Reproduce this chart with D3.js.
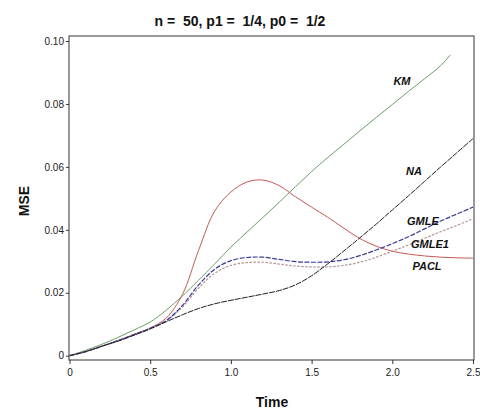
<!DOCTYPE html>
<html><head><meta charset="utf-8">
<script src="https://cdn.jsdelivr.net/npm/d3@7"></script>
<style>body{margin:0;background:#fff}svg{display:block}text{font-family:"Liberation Sans",Arial,sans-serif}</style>
</head><body><svg id="c" width="480" height="415"></svg>
<script>
const time = [0,0.1,0.2,0.3,0.4,0.5,0.6,0.7,0.8,0.9,1.0,1.1,1.2,1.3,1.4,1.5,1.6,1.7,1.8,1.9,2.0,2.1,2.2,2.3,2.4,2.5];
const kmTime = [0,0.1,0.2,0.3,0.4,0.5,0.6,0.7,0.8,0.9,1.0,1.1,1.2,1.3,1.4,1.5,1.6,1.7,1.8,1.9,2.0,2.1,2.2,2.3,2.36];
const KM    = [0,.0017,.0036,.0058,.0082,.0107,.0145,.0190,.0240,.0292,.0345,.0393,.0440,.0488,.0537,.0585,.0630,.0672,.0715,.0757,.0798,.0840,.0880,.0922,.0956];
const NA    = [0,.0013,.0030,.0046,.0065,.0085,.0108,.0130,.0150,.0165,.0176,.0186,.0196,.0207,.0225,.0254,.0292,.0333,.0375,.0418,.0463,.0508,.0554,.0600,.0645,.0690];
const GMLE  = [0,.0013,.0030,.0048,.0067,.0087,.0112,.0160,.0225,.0275,.0302,.0312,.0313,.0306,.0299,.0297,.0298,.0305,.0318,.0336,.0356,.0378,.0403,.0428,.0450,.0472];
const GMLE1 = [0,.0013,.0030,.0048,.0067,.0087,.0111,.0155,.0215,.0262,.0287,.0296,.0297,.0291,.0285,.0282,.0282,.0287,.0297,.0313,.0332,.0352,.0373,.0394,.0414,.0435];
const PACL  = [0,.0013,.0030,.0048,.0068,.0088,.0120,.0195,.0335,.0460,.0520,.0552,.0558,.0540,.0505,.0472,.0440,.0405,.0372,.0348,.0332,.0323,.0317,.0313,.0311,.0310];
const yTicks = [0,0.02,0.04,0.06,0.08,0.10];
const yTickLabels = ["0","0.02","0.04","0.06","0.08","0.10"];
const xTicks = [0,0.5,1.0,1.5,2.0,2.5];
const xTickLabels = ["0","0.5","1.0","1.5","2.0","2.5"];
const labels = ["KM","NA","GMLE","GMLE1","PACL"];
const labelPos = [[2.06,0.0870],[2.134,0.0584],[2.19,0.0425],[2.233,0.0352],[2.215,0.0282]];

const svg = d3.select("#c");
const x = d3.scaleLinear().domain([0,2.5]).range([69.5,473]);
const y = d3.scaleLinear().domain([0,0.1]).range([355.7,41]);
const L = 69, R = 474, T = 36, B = 360;

svg.append("rect").attr("x",L).attr("y",T).attr("width",R-L).attr("height",B-T)
  .attr("fill","none").attr("stroke","#333").attr("stroke-width",1);

const ya = svg.append("g").attr("transform",`translate(${L},0)`)
  .call(d3.axisLeft(y).tickValues(yTicks).tickSize(3).tickPadding(2).tickFormat((d,i)=>yTickLabels[i]));
ya.select(".domain").remove();
const xa = svg.append("g").attr("transform",`translate(0,${B})`)
  .call(d3.axisBottom(x).tickValues(xTicks).tickSize(4).tickPadding(5).tickFormat((d,i)=>xTickLabels[i]));
xa.select(".domain").remove();
svg.selectAll(".tick line").attr("stroke","#333");
svg.selectAll(".tick text").attr("font-size",10).attr("fill","#222").attr("font-family","'Liberation Sans',Arial,sans-serif");

const line = d3.line().x(d=>x(d[0])).y(d=>y(d[1])).curve(d3.curveCatmullRom.alpha(0.5));
const series = [
  {t:kmTime, v:KM, c:"#6a9f6a", dash:null, w:1},
  {t:time, v:PACL, c:"#c25a55", dash:null, w:1},
  {t:time, v:GMLE1, c:"#b59292", dash:"2.5,1.5", w:1.2},
  {t:time, v:GMLE, c:"#3c3c98", dash:"5,1.5", w:1.2},
  {t:time, v:NA, c:"#222", dash:"6,1", w:1}
];
series.forEach(s=>{
  svg.append("path").datum(s.t.map((t,i)=>[t,s.v[i]]))
    .attr("d",line).attr("fill","none").attr("stroke",s.c)
    .attr("stroke-width",s.w).attr("stroke-dasharray",s.dash);
});

labels.forEach((l,i)=>{
  svg.append("text").attr("x",x(labelPos[i][0])).attr("y",y(labelPos[i][1]))
    .attr("text-anchor","middle").attr("font-size",11).attr("font-weight","bold")
    .attr("font-style","italic").attr("fill","#111").attr("dominant-baseline","middle").text(l);
});

svg.append("text").attr("x",240).attr("y",26).attr("text-anchor","middle")
  .attr("font-size",14).attr("font-weight","bold").style("white-space","pre")
  .attr("fill","#111").text("n =  50, p1 =  1/4, p0 =  1/2");
svg.append("text").attr("x",272).attr("y",407).attr("text-anchor","middle")
  .attr("font-size",14).attr("font-weight","bold").attr("fill","#111").text("Time");
svg.append("text").attr("transform","translate(29,201) rotate(-90)").attr("text-anchor","middle")
  .attr("font-size",14).attr("font-weight","bold").attr("fill","#111").text("MSE");
</script></body></html>
